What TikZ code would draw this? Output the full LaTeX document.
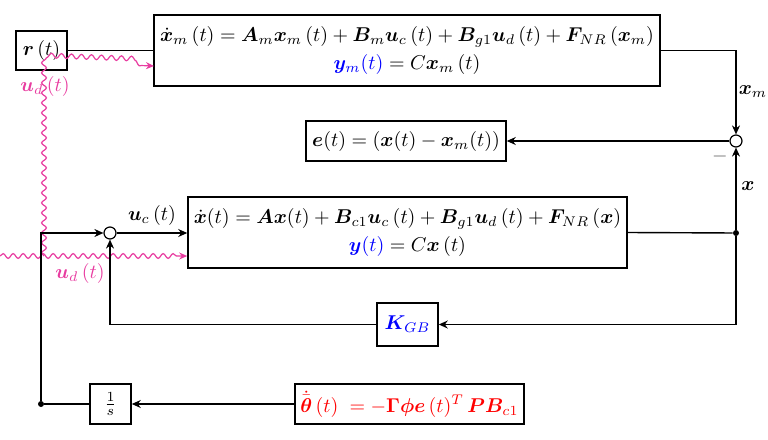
\documentclass[tikz,border=0pt]{standalone}
\usepackage{amsmath,bm}
\usetikzlibrary{arrows.meta,decorations.pathmorphing}
\definecolor{mag}{RGB}{232,60,160}
\begin{document}
\begin{tikzpicture}[x=0.5pt,y=-0.5pt,
  blk/.style={draw,line width=0.8pt,inner sep=0pt,align=center},
  sumc/.style={draw,circle,line width=0.6pt,minimum size=6pt,inner sep=0pt},
  dotc/.style={circle,fill,minimum size=3pt,inner sep=0pt},
  conn/.style={line width=0.7pt},
  arr/.style={conn,-{Stealth[length=4.5pt,width=4pt]}},
  wav/.style={mag,line width=0.6pt,decorate,decoration={snake,amplitude=1.2pt,segment length=5pt,post length=4pt}},
  wavarr/.style={-{Stealth[length=4pt,width=3.5pt]}}]
\useasboundingbox (0,0) rectangle (768,440);

\node[blk,minimum width=25.5pt,minimum height=19.5pt] (r) at (41.5,50.5) {$\bm r\,(t)$};
\node[blk,minimum width=253pt,minimum height=35.5pt] (model) at (407,50.5) {$\dot{\bm x}_m\,(t)=\bm A_m\bm x_m\,(t)+\bm B_m\bm u_c\,(t)+\bm B_{g1}\bm u_d\,(t)+\bm F_{NR}\,(\bm x_m)$\\[2pt] ${\color{blue}\bm y_m(t)}=C\bm x_m\,(t)$};
\node[blk,minimum width=100pt,minimum height=20pt] (e) at (406,141) {$\bm e(t)=(\bm x(t)-\bm x_m(t))$};
\node[sumc] (s2) at (736,141) {};
\node[sumc] (s1) at (110,233) {};
\node[blk,minimum width=219.5pt,minimum height=35.5pt] (plant) at (407.5,232.5) {$\dot{\bm x}(t)=\bm A\bm x(t)+\bm B_{c1}\bm u_c\,(t)+\bm B_{g1}\bm u_d\,(t)+\bm F_{NR}\,(\bm x)$\\[2pt] ${\color{blue}\bm y(t)}=C\bm x\,(t)$};
\node[blk,minimum width=30.5pt,minimum height=21.5pt] (k) at (407.5,324.5) {$\color{blue}\bm K_{GB}$};
\node[blk,minimum width=114.5pt,minimum height=20pt,text=red] (th) at (409.5,404) {$\dot{\bar{\bm\theta}}\,(t)\;=-\bm\Gamma\bm\phi\bm e\,(t)^T\,\bm P\bm B_{c1}$};
\node[blk,minimum width=20.5pt,minimum height=20pt] (int) at (110.5,404) {$\frac{1}{s}$};
\node[dotc] (d1) at (736,233) {};
\node[dotc] (d2) at (41,404) {};

% disturbance (wavy)
\coordinate (w0) at (0,256);
\coordinate (wj) at (44,256);
\coordinate (wc) at (44,62);
\coordinate (wm) at (154,66);
\draw[wav,wavarr] (w0) -- (w0 -| plant.west);
\draw[wav,wavarr] (wj) -- (wc) -- (wm);

% connectors
\draw[conn] (r.east) -- (r.east -| model.west);
\draw[arr] (model.east) -| (s2.north);
\draw[arr] (s2.west) -- (e.east);
\draw[conn] (plant.east) -- (d1);
\draw[arr] (d1) -- (s2.south);
\draw[arr] (d1) |- (k.east);
\draw[arr] (k.west) -| (s1.south);
\draw[arr] (s1.east) -- (s1.east -| plant.west);
\draw[arr] (th.west) -- (int.east);
\draw[arr] (int.west) -- (d2) |- (s1.west);

% labels
\node (lxm) at (753,92) {$\bm x_m$};
\node (lx) at (748,186) {$\bm x$};
\node[text=black!60] (lminus) at (720,156) {$-$};
\node (luc) at (152,215) {$\bm u_c\,(t)$};
\node[text=mag] (lud1) at (45,86) {$\bm u_d\,(t)$};
\node[text=mag] (lud2) at (80,273) {$\bm u_d\,(t)$};
\end{tikzpicture}
\end{document}
